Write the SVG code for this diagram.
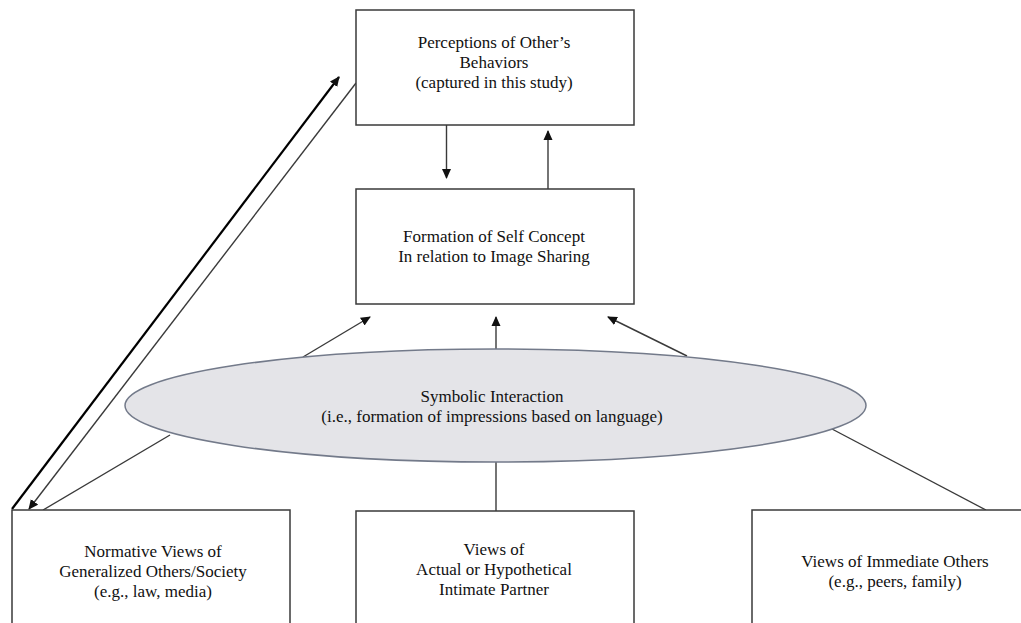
<svg xmlns="http://www.w3.org/2000/svg" width="1021" height="623" viewBox="0 0 1021 623">
<style>
.box{fill:#fff;stroke:#3a3a3a;stroke-width:1.5}
.t{font-family:"Liberation Serif","Times New Roman",serif;font-size:17px;fill:#111;text-anchor:middle}
.ln{stroke:#3a3a3a;stroke-width:1.4;fill:none}
</style>
<defs>
<marker id="ah" viewBox="0 0 10 10" refX="9" refY="5" markerWidth="10" markerHeight="10" markerUnits="userSpaceOnUse" orient="auto">
<path d="M0,0.5 L10,5 L0,9.5 z" fill="#111"/>
</marker>
</defs>
<rect width="1021" height="623" fill="#fff"/>
<g id="connectors">
<line class="ln" x1="446.5" y1="125" x2="446.5" y2="178" marker-end="url(#ah)"/>
<line class="ln" x1="548" y1="189" x2="548" y2="131" marker-end="url(#ah)"/>
<line class="ln" x1="303" y1="357" x2="370" y2="317" marker-end="url(#ah)"/>
<line class="ln" x1="496" y1="349" x2="496" y2="317" marker-end="url(#ah)"/>
<line class="ln" x1="687" y1="356" x2="608" y2="317" marker-end="url(#ah)"/>
<line class="ln" x1="170" y1="435" x2="43" y2="510"/>
<line class="ln" x1="496" y1="462" x2="496" y2="511"/>
<line class="ln" x1="832" y1="429" x2="986" y2="510"/>
<line x1="12" y1="509" x2="339" y2="77" stroke="#000" stroke-width="2.2" marker-end="url(#ah)"/>
<line class="ln" x1="356" y1="83" x2="29" y2="509" marker-end="url(#ah)"/>
</g>
<g id="perceptions">
<rect class="box" x="356" y="10" width="278" height="115"/>
<text class="t" x="494" y="48">Perceptions of Other’s</text>
<text class="t" x="494" y="68">Behaviors</text>
<text class="t" x="494" y="88">(captured in this study)</text>
</g>
<g id="self-concept">
<rect class="box" x="356" y="189" width="278" height="115"/>
<text class="t" x="494" y="242">Formation of Self Concept</text>
<text class="t" x="494" y="262">In relation to Image Sharing</text>
</g>
<g id="symbolic-interaction">
<ellipse cx="495.5" cy="405.5" rx="370.5" ry="56.5" fill="#e4e4e8" stroke="#737a8a" stroke-width="1.5"/>
<text class="t" x="492" y="402">Symbolic Interaction</text>
<text class="t" x="492" y="422">(i.e., formation of impressions based on language)</text>
</g>
<g id="normative-views">
<rect class="box" x="12" y="510" width="278" height="130"/>
<text class="t" x="153" y="557">Normative Views of</text>
<text class="t" x="153" y="577">Generalized Others/Society</text>
<text class="t" x="153" y="597">(e.g., law, media)</text>
</g>
<g id="intimate-partner">
<rect class="box" x="356" y="511" width="278" height="130"/>
<text class="t" x="494" y="555">Views of</text>
<text class="t" x="494" y="575">Actual or Hypothetical</text>
<text class="t" x="494" y="595">Intimate Partner</text>
</g>
<g id="immediate-others">
<rect class="box" x="752" y="510" width="290" height="130"/>
<text class="t" x="895" y="567">Views of Immediate Others</text>
<text class="t" x="895" y="587">(e.g., peers, family)</text>
</g>
</svg>
